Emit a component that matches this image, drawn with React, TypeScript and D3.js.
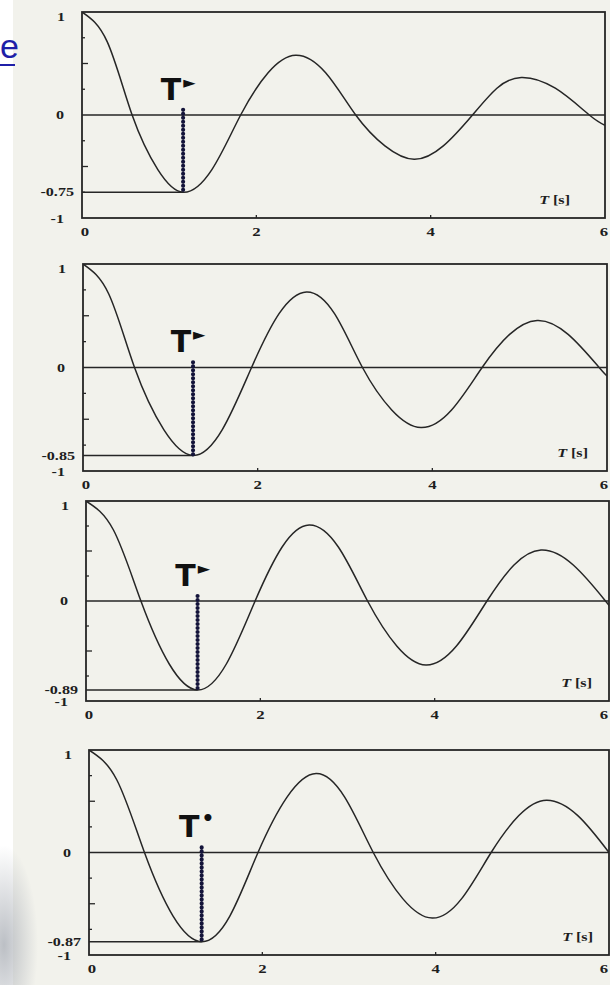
import React from "react";
import * as d3 from "d3";

// ---- data ----
const xTicks = [0, 2, 4, 6];
const topLabel = "1";
const zeroLabel = "0";
const bottomLabel = "-1";
const minLabels = ["-0.75", "-0.85", "-0.89", "-0.87"];
const minValues = [-0.75, -0.85, -0.89, -0.87];
const tStar = [1.16, 1.26, 1.28, 1.3];
const starGlyphs = ["►", "►", "►", "•"];
const axisLabelT = "T";
const axisLabelUnit = " [s]";
const linkText = "e";

const curve1: [number, number][] = [
  [0, 1], [0.29, 0.71], [0.575, 0], [0.87, -0.53], [1.16, -0.75],
  [1.49, -0.53], [1.82, 0], [2.135, 0.41], [2.45, 0.58], [2.795, 0.41],
  [3.14, 0], [3.475, -0.3], [3.81, -0.43], [4.145, -0.3], [4.48, 0],
  [4.76, 0.26], [5.04, 0.365], [5.43, 0.26], [5.82, 0], [6, -0.1],
];
const curve2: [number, number][] = [
  [0, 1], [0.295, 0.71], [0.59, 0], [0.925, -0.6], [1.26, -0.85],
  [1.595, -0.6], [1.93, 0], [2.245, 0.52], [2.56, 0.73], [2.88, 0.52],
  [3.2, 0], [3.535, -0.41], [3.87, -0.58], [4.22, -0.41], [4.57, 0],
  [4.885, 0.32], [5.2, 0.455], [5.555, 0.32], [5.91, 0], [6, -0.08],
];
const curve3: [number, number][] = [
  [0, 1], [0.315, 0.71], [0.63, 0], [0.955, -0.63], [1.28, -0.89],
  [1.61, -0.63], [1.94, 0], [2.25, 0.54], [2.56, 0.76], [2.895, 0.54],
  [3.23, 0], [3.565, -0.45], [3.9, -0.64], [4.25, -0.45], [4.6, 0],
  [4.91, 0.36], [5.22, 0.51], [5.59, 0.36], [5.96, 0], [6, -0.04],
];
const curve4: [number, number][] = [
  [0, 1], [0.32, 0.71], [0.64, 0], [0.97, -0.62], [1.3, -0.87],
  [1.625, -0.62], [1.95, 0], [2.285, 0.54], [2.62, 0.77], [2.95, 0.54],
  [3.28, 0], [3.62, -0.45], [3.96, -0.64], [4.3, -0.45], [4.64, 0],
  [4.96, 0.36], [5.28, 0.51], [5.64, 0.36], [6, 0],
];
const curves = [curve1, curve2, curve3, curve4];

// ---- layout (positions / styles) ----
const W = 610;
const H = 985;
const layout = [
  { left: 82, right: 605, top: 12, bottom: 218, unitGap: 35 },
  { left: 83, right: 607, top: 264, bottom: 471, unitGap: 19 },
  { left: 86, right: 609, top: 501, bottom: 701, unitGap: 17 },
  { left: 89, right: 609, top: 750, bottom: 955, unitGap: 16 },
];
const INK = "#262626";
const DOT = "#14143a";
const FONT = "'Liberation Serif', 'DejaVu Serif', serif";
const SX = 1.4;

function SText({ x, y, anchor, size, children }: any) {
  return (
    <text
      transform={`translate(${x},${y}) scale(${SX},1)`}
      textAnchor={anchor}
      dy="0.35em"
      fontFamily={FONT}
      fontWeight="bold"
      fontSize={size}
      fill="#1e1e1e"
    >
      {children}
    </text>
  );
}

function Panel({ i }: { i: number }) {
  const L = layout[i];
  const x = d3.scaleLinear().domain([0, 6]).range([L.left, L.right]);
  const y = d3.scaleLinear().domain([-1, 1]).range([L.bottom, L.top]);
  const line = d3
    .line<[number, number]>()
    .x((d) => x(d[0]))
    .y((d) => y(d[1]))
    .curve(d3.curveNatural);
  const minorTicks = [0.75, 0.5, 0.25, -0.25, -0.5, -0.75];
  const xs = x(tStar[i]);
  return (
    <g>
      <defs>
        <clipPath id={`clip${i}`}>
          <rect x={L.left} y={L.top} width={L.right - L.left} height={L.bottom - L.top} />
        </clipPath>
      </defs>
      {/* frame */}
      <rect
        x={L.left}
        y={L.top}
        width={L.right - L.left}
        height={L.bottom - L.top}
        fill="none"
        stroke={INK}
        strokeWidth={1.8}
      />
      {/* y inner ticks */}
      {minorTicks.map((v) => (
        <line
          key={v}
          x1={L.left}
          x2={L.left + (Math.abs(v) === 0.5 ? 6 : 3)}
          y1={y(v)}
          y2={y(v)}
          stroke={INK}
          strokeWidth={1.3}
        />
      ))}
      {/* x ticks */}
      {[2, 4].map((t) => (
        <line key={t} x1={x(t)} x2={x(t)} y1={L.bottom} y2={L.bottom - 3} stroke={INK} strokeWidth={1.3} />
      ))}
      {/* zero line */}
      <line x1={L.left} x2={L.right} y1={y(0)} y2={y(0)} stroke={INK} strokeWidth={1.5} />
      {/* min line */}
      <line x1={L.left} x2={xs} y1={y(minValues[i])} y2={y(minValues[i])} stroke={INK} strokeWidth={1.4} />
      {/* curve */}
      <path
        d={line(curves[i]) || ""}
        fill="none"
        stroke={INK}
        strokeWidth={1.5}
        clipPath={`url(#clip${i})`}
      />
      {/* dotted T* line */}
      <line
        x1={xs}
        x2={xs}
        y1={y(0.05)}
        y2={y(minValues[i])}
        stroke={DOT}
        strokeWidth={4.2}
        strokeLinecap="round"
        strokeDasharray="0 4"
      />
      {/* T* label */}
      <text
        x={xs - 5}
        y={y(0.15)}
        textAnchor="middle"
        fontFamily="'DejaVu Sans', sans-serif"
        fontWeight="bold"
        fontSize={30}
        fill="#111"
      >
        T
        <tspan dx={2} dy={-12} fontSize={i === 3 ? 20 : 16}>
          {starGlyphs[i]}
        </tspan>
      </text>
      {/* y labels */}
      <SText x={L.left - 17} y={y(1) + 5} anchor="end" size={11.5}>{topLabel}</SText>
      <SText x={L.left - 18} y={y(0)} anchor="end" size={11.5}>{zeroLabel}</SText>
      <SText x={L.left - 8} y={y(minValues[i])} anchor="end" size={11.5}>{minLabels[i]}</SText>
      <SText x={L.left - 18} y={y(-1) + 1} anchor="end" size={11.5}>{bottomLabel}</SText>
      {/* x labels */}
      {xTicks.map((t) => (
        <SText
          key={t}
          x={t === 0 ? x(t) + 3 : Math.min(x(t), W - 6)}
          y={L.bottom + 14}
          anchor="middle"
          size={12}
        >
          {String(t)}
        </SText>
      ))}
      {/* axis title */}
      <SText x={L.right - L.unitGap} y={L.bottom - 18} anchor="end" size={11.5}>
        <tspan fontStyle="italic">{axisLabelT}</tspan>
        {axisLabelUnit}
      </SText>
    </g>
  );
}

export default function App() {
  return (
    <svg
      width={W}
      height={H}
      style={{ position: "absolute", left: 0, top: 0, display: "block" }}
    >
      <defs>
        <radialGradient id="smudge" cx="0.5" cy="0.5" r="0.5">
          <stop offset="0%" stopColor="#b4b8be" stopOpacity={0.9} />
          <stop offset="100%" stopColor="#b4b8be" stopOpacity={0} />
        </radialGradient>
      </defs>
      <rect x={0} y={0} width={W} height={H} fill="#f2f2ec" />
      <rect x={0} y={0} width={13} height={H} fill="#ffffff" />
      <ellipse cx={4} cy={945} rx={34} ry={100} fill="url(#smudge)" />
      {layout.map((_, i) => (
        <Panel key={i} i={i} />
      ))}
      <text
        x={0}
        y={58}
        fontFamily="'Liberation Sans', Arial, sans-serif"
        fontSize={34}
        fill="#1f1fa8"
      >
        {linkText}
      </text>
      <line x1={0} x2={15} y1={65} y2={65} stroke="#1f1fa8" strokeWidth={2} />
    </svg>
  );
}
